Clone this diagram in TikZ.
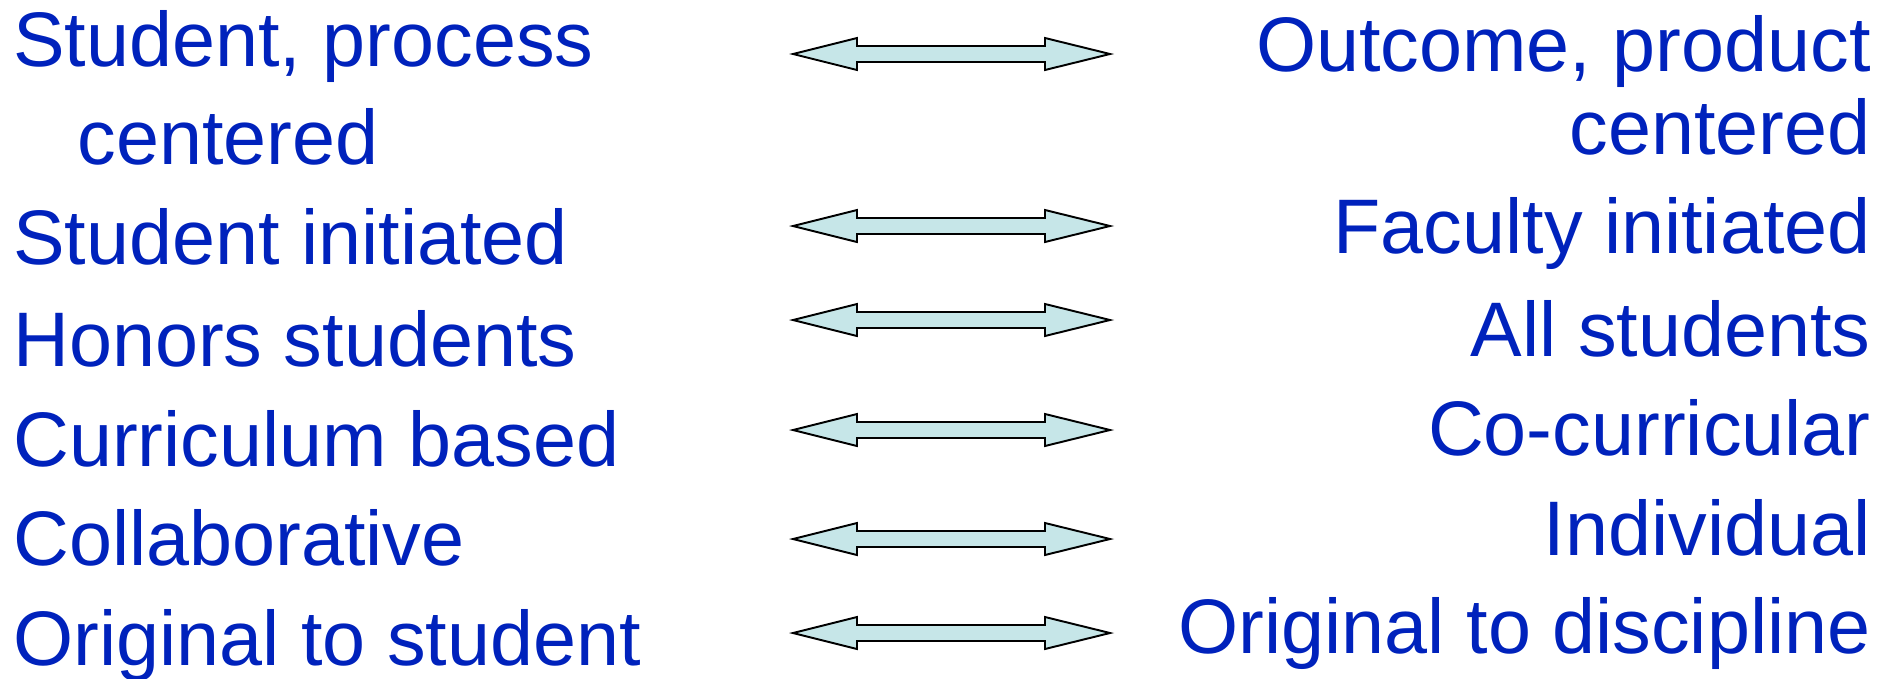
\documentclass[tikz,border=0pt]{standalone}
\usepackage{fontspec}
\setmainfont{Liberation Sans}
\definecolor{itemblue}{RGB}{0,34,188}
\definecolor{arrowfill}{RGB}{198,230,232}

\begin{document}
\begin{tikzpicture}[font=\fontsize{44}{53}\selectfont,
    lefttext/.style={anchor=base west, inner sep=0pt, text=itemblue},
    righttext/.style={anchor=base east, inner sep=0pt, text=itemblue},
    dblarrow/.style={draw=black, line width=1.1pt, fill=arrowfill}]
	\useasboundingbox (0,0) rectangle (37.88,-13.56);
	% left column
	\node[lefttext] (proc) at (0.26,-1.32) {Student, process};
	\node[lefttext] (procb) at (1.55,-3.28) {centered};
	\node[lefttext] (stinit) at (0.26,-5.28) {Student initiated};
	\node[lefttext] (honors) at (0.26,-7.32) {Honors students};
	\node[lefttext] (curric) at (0.26,-9.32) {Curriculum based};
	\node[lefttext] (collab) at (0.26,-11.30) {Collaborative};
	\node[lefttext] (origst) at (0.26,-13.30) {Original to student};
	% right column
	\node[righttext] (outc) at (37.42,-1.42) {Outcome, product};
	\node[righttext] (outcb) at (37.42,-3.08) {centered};
	\node[righttext] (facinit) at (37.42,-5.06) {Faculty initiated};
	\node[righttext] (allst) at (37.42,-7.12) {All students};
	\node[righttext] (cocur) at (37.42,-9.10) {Co-curricular};
	\node[righttext] (indiv) at (37.42,-11.10) {Individual};
	\node[righttext] (origdis) at (37.42,-13.06) {Original to discipline};
	% double headed arrows between the columns
	\foreach \y in {-1.08,-4.52,-6.40,-8.60,-10.78,-12.66}
	  \draw[dblarrow] (15.86,\y) -- (17.14,\y+0.32) -- (17.14,\y+0.16) -- (20.90,\y+0.16)
	    -- (20.90,\y+0.32) -- (22.20,\y) -- (20.90,\y-0.32) -- (20.90,\y-0.16)
	    -- (17.14,\y-0.16) -- (17.14,\y-0.32) -- cycle;
\end{tikzpicture}
\end{document}
